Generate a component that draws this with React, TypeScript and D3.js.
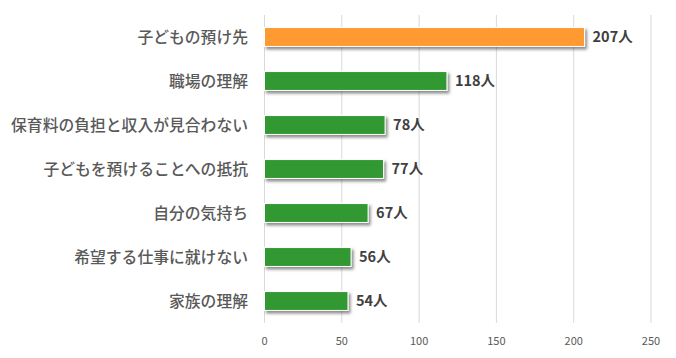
import React from "react";
import * as d3 from "d3";

const categories = [
  "子どもの預け先",
  "職場の理解",
  "保育料の負担と収入が見合わない",
  "子どもを預けることへの抵抗",
  "自分の気持ち",
  "希望する仕事に就けない",
  "家族の理解",
];
const values = [207, 118, 78, 77, 67, 56, 54];
const barColors = ["#FF9933", "#339933", "#339933", "#339933", "#339933", "#339933", "#339933"];
const ticks = [0, 50, 100, 150, 200, 250];
const unit = "人";

export default function App() {
  const W = 676, H = 358;
  const x = d3.scaleLinear().domain([0, 250]).range([264.5, 651]);
  const y = d3.scaleBand().domain(categories).range([15, 323]).paddingInner(0.57).paddingOuter(0.285);
  const font = "'Noto Sans CJK JP', 'Noto Sans', sans-serif";
  return (
    <svg width={W} height={H} style={{ position: "absolute", left: 0, top: 0, background: "#fff" }}>
      <defs>
        <filter id="sh" x="-10%" y="-30%" width="130%" height="180%">
          <feDropShadow dx="2" dy="2.5" stdDeviation="1.6" floodColor="#000" floodOpacity="0.45" />
        </filter>
      </defs>
      {ticks.map((t) => (
        <line key={t} x1={x(t)} x2={x(t)} y1={15} y2={323} stroke="#d9d9d9" strokeWidth={1} />
      ))}
      {ticks.map((t) => (
        <text key={"t" + t} x={x(t)} y={345} fontSize={11} fill="#595959" textAnchor="middle" fontFamily={font}>
          {t}
        </text>
      ))}
      {categories.map((c, i) => {
        const by = y(c)!;
        const bh = y.bandwidth();
        return (
          <g key={c}>
            <rect x={x(0)} y={by} width={x(values[i]) - x(0)} height={bh} fill={barColors[i]} stroke="#fff" strokeWidth={1} filter="url(#sh)" />
            <text x={248} y={by + bh / 2} dy="0.35em" fontSize={15.8} fontWeight={500} fill="#595959" textAnchor="end" fontFamily={font}>
              {c}
            </text>
            <text x={x(values[i]) + 8} y={by + bh / 2} dy="0.35em" fontSize={14.5} fontWeight="bold" fill="#404040" fontFamily={font}>
              {values[i]}{unit}
            </text>
          </g>
        );
      })}
    </svg>
  );
}
